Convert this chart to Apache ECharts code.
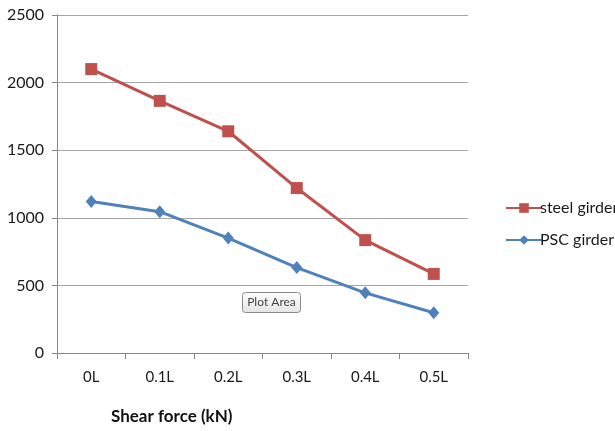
<!DOCTYPE html>
<html><head><meta charset="utf-8">
<script src="https://cdn.jsdelivr.net/npm/echarts@6/dist/echarts.min.js"></script>
<style>html,body{margin:0;padding:0;background:#fff}#c{width:615px;height:431px}</style>
</head><body><div id="c"></div>
<script>
const categories = ['0L','0.1L','0.2L','0.3L','0.4L','0.5L'];
const steelGirder = [2100, 1865, 1640, 1220, 835, 585];
const pscGirder = [1120, 1045, 850, 632, 445, 298];
const yTicks = {min: 0, max: 2500, interval: 500};
const FONT = 'Lato, "Open Sans", sans-serif';

const chart = echarts.init(document.getElementById('c'), null, {renderer: 'canvas'});
chart.setOption({
  animation: false,
  backgroundColor: '#fff',
  grid: {left: 57, right: 147, top: 15, bottom: 78},
  xAxis: {
    type: 'category', data: categories, boundaryGap: true,
    axisLine: {lineStyle: {color: '#868686', width: 1}},
    axisTick: {show: true, length: 6, interval: 0, lineStyle: {color: '#868686'}},
    axisLabel: {color: '#1a1a1a', fontSize: 15, fontFamily: FONT, margin: 17}
  },
  yAxis: {
    type: 'value', min: yTicks.min, max: yTicks.max, interval: yTicks.interval,
    axisLine: {show: true, lineStyle: {color: '#868686', width: 1}},
    axisTick: {show: true, length: 5, lineStyle: {color: '#868686'}},
    splitLine: {lineStyle: {color: '#a6a6a6', width: 1}},
    axisLabel: {color: '#1a1a1a', fontSize: 16, fontFamily: FONT, margin: 13,
                formatter: v => String(v)}
  },
  legend: {
    orient: 'vertical', left: 500, top: 195, itemGap: 16, itemWidth: 36, itemHeight: 12,
    textStyle: {fontSize: 16, fontFamily: FONT, color: '#1a1a1a', padding: [0,0,0,-7]},
    data: ['steel girder', 'PSC girder']
  },
  series: [
    {name: 'steel girder', type: 'line', data: steelGirder, color: '#C0504D',
     symbol: 'rect', symbolSize: 12, lineStyle: {width: 3}},
    {name: 'PSC girder', type: 'line', data: pscGirder, color: '#4F81BD',
     symbol: 'diamond', symbolSize: [11, 13], lineStyle: {width: 3}}
  ],
  graphic: [
    {type: 'text', left: 111, top: 408,
     style: {text: 'Shear force (kN)', font: 'bold 17px ' + FONT, fill: '#111'}},
    {type: 'group', left: 242, top: 292, children: [
      {type: 'rect', shape: {x: 0, y: 0, width: 58, height: 20, r: 3},
       style: {fill: new echarts.graphic.LinearGradient(0,0,0,1,[{offset:0,color:'#ffffff'},{offset:1,color:'#e4e4e4'}]), stroke: '#8a8a8a', lineWidth: 1}},
      {type: 'text', x: 29, y: 10,
       style: {text: 'Plot Area', font: '12px ' + FONT, fill: '#444', align: 'center', verticalAlign: 'middle'}}
    ]}
  ]
});
</script></body></html>
